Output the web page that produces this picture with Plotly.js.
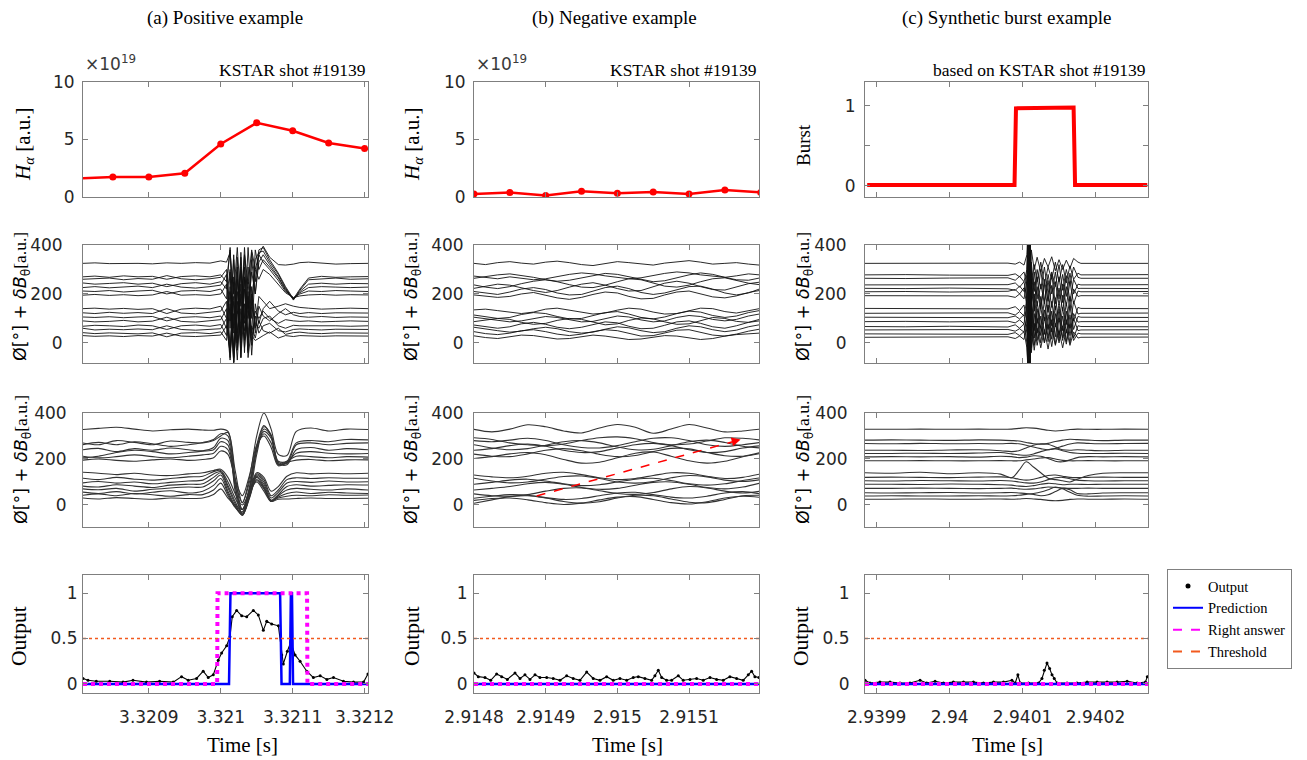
<!DOCTYPE html>
<html><head><meta charset="utf-8">
<script src="https://cdn.plot.ly/plotly-3.0.1.min.js"></script>
<style>html,body{margin:0;padding:0;background:#fff}#chart{width:1307px;height:760px}</style>
</head><body><div id="chart"></div>
<script>
// ================= DATA =================
// time arrays are in microseconds after the column base time (seconds)
const COL_BASE = [3.3208, 2.9148, 2.9399];
const X_TICK_LABELS = [["3.3209","3.321","3.3211","3.3212"],["2.9148","2.9149","2.915","2.9151"],["2.9399","2.94","2.9401","2.9402"]];
const X_RANGE_US = [[8.5,404.7],[0,397.6],[-16,372]];
const COL_TITLES = ["(a) Positive example","(b) Negative example","(c) Synthetic burst example"];
const SHOT_LABELS = ["KSTAR shot #19139","KSTAR shot #19139","based on KSTAR shot #19139"];

// Row 1: H-alpha (x1e19) and synthetic burst flag
const HA_POS_T = [0,50,100,150,200,250,300,350,400];
const HA_POS   = [1.62,1.73,1.73,2.07,4.61,6.45,5.76,4.70,4.21];
const HA_NEG_T = [0,50,100,150,200,250,300,350,400];
const HA_NEG   = [0.26,0.40,0.14,0.49,0.32,0.43,0.26,0.61,0.40];
const BURST_T  = [-13,189,191,270,272,371];
const BURST    = [0.01,0.01,0.97,0.98,0.01,0.01];

// Row 2: raw phase + dB signals
const RAW_POS_T = [8,25,45,65,85,105,125,145,165,185,200,208,213,218,223,228,233,238,243,248,253,259,268,280,290,301,310,322,340,360,380,405];
const RAW_POS = [
 [325,327,324,326,325,323,327,325,328,326,335,330,370,200,390,150,360,240,380,300,360,395,350,320,318,322,328,330,326,322,324,325],
 [270,273,268,274,270,272,260,271,274,270,278,250,380,60,350,-20,310,100,370,250,380,390,340,285,230,180,220,265,272,268,270,271],
 [260,262,265,258,263,260,275,262,258,262,268,300,90,340,0,370,80,390,150,340,370,375,330,280,225,175,215,258,262,265,260,262],
 [245,240,243,246,240,244,230,242,246,240,250,220,390,40,310,-60,270,20,340,200,330,360,320,270,220,178,210,240,244,240,243,242],
 [226,230,225,228,232,226,240,228,224,230,236,280,60,360,120,350,-40,310,100,380,300,340,310,265,215,180,205,226,230,228,226,228],
 [212,210,214,208,212,215,200,212,214,210,220,180,300,-60,290,60,390,140,290,200,360,330,300,255,210,185,200,212,210,214,212,210],
 [195,198,194,197,193,196,210,195,197,194,200,240,-20,270,40,310,100,250,40,300,260,300,280,240,205,185,192,196,198,195,197,196],
 [140,142,138,141,137,140,120,138,142,139,150,100,290,-80,210,30,360,-40,230,60,190,170,140,150,160,150,145,142,138,140,142,140],
 [123,120,125,121,124,120,140,122,119,124,130,170,-60,250,-20,300,10,210,-50,160,80,140,170,130,115,125,120,124,120,123,122,122],
 [106,104,107,103,106,108,90,104,107,103,110,60,230,-80,170,40,260,-30,200,40,150,110,90,120,140,115,108,105,108,104,106,105],
 [90,86,88,92,86,89,105,88,85,90,95,140,-40,190,0,240,50,170,10,130,100,130,100,80,95,90,88,90,86,88,90,88],
 [68,72,70,67,73,70,55,70,73,68,75,30,210,-20,260,-60,160,0,150,80,60,100,110,70,60,72,70,70,72,70,68,70],
 [60,53,56,54,57,54,70,55,52,56,58,100,-70,170,-30,140,20,190,-10,110,40,70,80,50,45,55,57,55,53,56,55,55],
 [42,38,41,40,37,41,25,40,42,38,45,10,160,-80,130,0,220,-60,70,20,90,50,40,60,35,42,44,40,38,41,40,40],
 [30,27,29,26,30,28,40,28,26,29,32,70,-40,120,-70,200,-20,130,30,10,20,30,45,20,30,26,30,28,27,29,28,28]
];
const RAW_NEG_T = [0,16,33,50,66,83,100,116,133,150,166,183,200,216,233,250,266,283,300,316,333,350,366,383,398];
const RAW_NEG = [
 [325,320,328,332,326,322,330,334,328,320,316,324,332,328,322,318,326,330,336,330,322,325,328,322,318],
 [273,268,262,270,264,258,262,272,280,286,282,274,268,262,266,276,284,290,286,278,272,268,274,282,278],
 [264,272,278,282,276,268,258,252,256,266,276,284,280,270,258,250,254,266,278,286,280,268,258,256,265],
 [237,228,222,230,242,252,258,250,238,228,226,236,250,262,258,244,232,228,236,250,262,266,256,244,238],
 [223,232,240,236,224,214,206,214,228,240,246,236,222,212,214,228,244,252,244,230,218,216,228,242,248],
 [210,204,198,208,220,226,218,204,196,198,212,226,232,222,206,198,204,218,230,232,220,204,196,204,220],
 [196,190,186,190,200,206,196,184,178,186,198,208,204,190,180,182,196,208,212,200,188,184,192,206,214],
 [135,138,132,126,120,126,138,142,134,124,118,122,134,142,138,126,118,120,132,142,140,128,122,130,140],
 [114,106,100,104,116,124,120,108,98,100,112,124,128,118,104,98,106,120,130,126,112,104,110,124,132],
 [105,98,92,86,90,100,108,104,94,86,88,100,110,106,94,86,90,104,112,108,96,90,96,110,118],
 [87,94,100,96,84,76,80,92,100,96,84,74,78,92,102,98,86,76,78,92,104,100,88,84,96],
 [73,66,60,66,78,84,76,64,58,64,76,86,82,68,58,60,72,86,90,80,66,60,70,84,90],
 [64,56,50,44,48,58,64,58,46,40,44,56,66,62,50,42,46,60,70,66,54,46,52,66,74],
 [46,38,34,40,50,54,46,36,30,36,46,54,50,38,28,30,42,52,54,44,32,28,36,48,56],
 [29,22,18,24,32,30,22,16,18,26,32,28,20,14,16,24,30,28,20,14,18,28,34,38,40]
];
const RAW_SYN_T = [-16,40,100,150,180,190,196,202,206,208,210,212,216,220,225,230,235,240,245,250,255,260,265,270,276,280,330,373];
const RAW_SYN = [
 [325,326,324,325,326,322,330,318,360,520,-150,380,300,350,290,345,310,352,295,340,300,338,305,345,330,325,326,325],
 [278,279,277,278,276,282,270,290,240,-150,500,220,320,250,330,240,310,260,330,250,320,245,315,260,285,278,278,279],
 [264,263,265,264,266,256,272,250,300,500,-150,330,210,300,220,310,200,290,230,320,215,300,240,310,268,264,265,264],
 [237,238,236,237,238,245,228,250,180,-150,500,160,290,180,300,170,280,200,290,180,280,190,285,200,240,237,237,238],
 [223,222,224,223,221,215,232,210,280,500,-150,300,160,270,150,260,170,280,160,270,165,275,170,260,222,223,223,222],
 [209,210,208,209,211,218,200,225,150,-150,500,140,250,150,240,160,255,145,250,155,240,150,250,160,212,209,209,210],
 [193,192,194,193,192,186,200,180,250,500,-150,260,130,230,140,240,125,235,135,225,130,230,140,220,190,193,193,192],
 [141,140,142,141,139,148,132,155,90,-150,500,60,200,80,190,90,200,70,185,85,195,75,190,90,145,141,141,140],
 [121,122,120,121,123,114,128,110,180,500,-150,190,50,170,60,175,55,170,65,160,50,165,60,170,118,121,121,122],
 [105,104,106,105,103,110,98,115,40,-150,500,30,160,40,150,35,155,45,150,30,145,40,150,55,108,105,105,104],
 [87,88,86,87,89,82,94,78,150,500,-150,160,20,140,30,135,20,130,25,140,20,130,30,120,85,87,87,88],
 [67,66,68,67,65,74,60,78,0,-150,500,-20,120,10,110,0,115,15,120,10,110,5,115,20,70,67,67,66],
 [53,54,52,53,55,48,58,44,110,500,-150,120,-10,100,0,105,5,95,-5,100,10,95,0,100,50,53,53,54],
 [37,36,38,37,35,42,30,46,-20,-150,500,-40,80,-10,70,0,75,-15,80,0,70,-5,75,10,40,37,37,36],
 [23,24,22,23,25,18,28,14,80,500,-150,70,-30,60,-20,55,-25,60,-10,50,-20,55,-10,45,20,23,23,24]
];

// Row 3: filtered signals
const FILT_POS_T = [8,30,55,80,105,130,155,175,190,200,210,220,230,240,250,260,270,280,292,305,325,350,375,405];
const FILT_POS = [
 [328,333,338,330,322,327,330,326,325,330,320,150,10,120,300,400,330,220,215,320,335,322,330,328],
 [270,262,280,272,262,278,272,270,280,300,315,120,-20,80,260,345,300,190,190,270,280,275,285,283],
 [262,272,262,275,266,255,262,272,285,310,300,90,-40,60,240,340,305,185,180,262,270,262,268,270],
 [240,246,232,245,238,248,240,236,250,290,280,60,-45,40,220,330,300,180,175,240,250,238,245,240],
 [205,212,228,238,232,222,228,234,240,275,260,80,-20,70,240,320,290,175,185,225,232,225,222,224],
 [212,205,210,218,210,205,212,218,225,255,240,100,10,100,250,310,270,175,190,212,210,205,210,208],
 [195,200,194,190,196,200,194,198,205,235,220,110,40,130,260,300,250,170,185,195,198,192,196,196],
 [142,138,132,138,130,128,135,140,150,155,120,50,0,60,140,120,60,80,125,140,135,138,136,138],
 [116,110,120,112,108,115,122,125,145,150,100,30,-20,50,135,110,40,65,110,118,115,118,116,116],
 [96,102,95,100,92,98,104,108,135,145,85,15,-35,40,130,100,30,55,95,102,98,104,100,101],
 [82,78,88,82,76,86,90,92,120,140,75,5,-45,35,125,90,20,45,80,88,82,85,88,87],
 [70,66,72,60,68,74,78,78,105,130,60,-5,-45,30,120,80,15,40,65,72,68,65,70,65],
 [56,50,58,48,55,62,52,60,85,115,50,-10,-40,40,110,75,15,35,50,56,50,55,52,50],
 [42,48,40,50,44,38,45,45,65,95,40,-10,-30,50,105,70,20,30,38,42,40,44,42,43],
 [30,26,32,28,25,30,28,30,45,70,30,0,-20,60,100,60,15,25,26,28,30,28,28,29]
];
const FILT_NEG_T = [0,25,50,75,100,125,150,175,200,225,250,275,300,325,350,375,400];
const FILT_NEG = [
 [329,318,330,349,340,322,313,335,350,338,312,330,350,335,318,322,330],
 [292,285,270,262,258,265,280,292,296,288,272,262,265,278,292,290,282],
 [280,275,282,290,280,262,250,248,258,275,290,292,280,262,255,262,272],
 [262,248,240,245,260,275,280,270,252,240,242,258,275,282,272,255,248],
 [238,245,258,265,255,238,228,232,248,262,268,258,240,228,232,248,258],
 [221,212,210,222,238,245,236,220,210,215,232,246,244,228,214,212,224],
 [202,210,222,228,218,198,182,186,205,225,230,212,192,182,190,210,228],
 [130,122,118,125,138,142,132,118,110,115,128,140,138,125,115,120,135],
 [116,104,96,100,112,124,126,115,100,95,102,118,128,122,108,102,110],
 [90,98,108,112,104,92,84,88,100,112,116,106,92,86,92,106,118],
 [65,72,80,92,98,90,76,68,72,86,98,100,90,76,70,78,96],
 [48,40,38,45,60,72,74,62,50,46,54,70,80,74,60,52,60],
 [29,38,45,42,32,24,28,40,52,55,45,34,30,38,52,58,48],
 [7,22,36,40,30,15,8,14,30,42,40,26,12,10,24,40,42],
 [20,28,30,22,10,2,8,22,34,36,24,10,4,14,30,38,33]
];
const FILT_SYN_T = [-16,20,60,100,140,170,185,195,205,215,225,235,245,255,265,275,290,310,340,373];
const FILT_SYN = [
 [329,329,330,329,330,329,330,333,336,334,330,325,322,324,328,330,329,329,330,329],
 [282,283,282,281,283,282,280,278,272,266,264,268,276,282,286,284,282,280,282,282],
 [267,266,268,266,267,266,268,266,260,252,245,240,246,256,265,270,268,266,267,268],
 [238,238,237,239,240,236,232,236,248,260,266,264,252,240,238,240,238,236,238,238],
 [224,224,225,224,226,228,222,218,216,222,232,240,244,236,228,225,224,224,225,224],
 [209,210,209,210,208,212,210,206,208,214,212,202,190,188,196,206,210,209,210,209],
 [192,192,193,192,192,193,192,192,196,200,204,206,200,194,192,192,193,192,192,192],
 [140,138,142,136,140,134,118,150,188,165,140,116,110,105,100,112,128,138,140,140],
 [120,121,120,119,121,122,118,112,108,112,120,128,130,125,120,119,120,121,120,120],
 [105,104,106,105,104,106,104,100,96,95,100,110,118,120,114,108,105,104,105,105],
 [90,90,89,91,90,88,86,82,80,84,90,94,92,88,90,90,89,90,90,90],
 [72,72,73,72,71,72,73,70,68,70,74,78,76,74,72,72,73,72,72,72],
 [53,52,53,54,52,53,54,52,50,46,40,44,58,72,66,50,48,52,53,53],
 [39,40,39,39,40,39,40,42,46,50,56,66,78,70,55,42,38,39,40,39],
 [25,25,26,25,25,26,25,26,28,26,24,20,18,20,24,26,25,25,26,25]
];
const ARROW_T = [87.4, 372];
const ARROW_V = [39, 284.5];

// Row 4: network output, prediction, right answer, threshold
const OUT_POS_T = [8.5,15.5,27,45.7,64.2,78,96.8,115,133.9,145.5,154.8,166.4,175.6,182.6,189.6,196.5,201.2,208.2,212.8,216,222.1,229.1,236.1,245.3,252.2,259.2,263.9,270.8,280.1,284.8,287,292.6,297.3,303.3,310.3,319.6,328.8,338.2,347.5,356.7,370.6,384.5,398.5,404.6];
const OUT_POS   = [0.06,0.04,0.03,0.03,0.02,0.04,0.02,0.03,0.02,0.08,0.04,0.06,0.14,0.07,0.10,0.26,0.34,0.42,0.52,0.74,0.81,0.75,0.74,0.81,0.76,0.59,0.69,0.66,0.64,0.32,0.22,0.36,0.46,0.32,0.25,0.14,0.07,0.09,0.05,0.07,0.03,0.02,0.02,0.11];
const OUT_NEG_T = [0,6,15.3,23.3,31.6,38.6,46.5,57.2,64.2,71.1,78.1,85.1,92,101.4,110.6,120,129.3,138.5,147.8,157.2,166.4,175.7,185.1,194.3,203.6,213,222.2,229.2,238.5,247.8,252.4,257.1,261.8,268.7,275.7,285,291.9,301.3,310.6,319.8,329.2,338.5,347.7,357,366.4,375.6,382.6,387.3,391.9,397.5];
const OUT_NEG   = [0.12,0.08,0.07,0.04,0.11,0.08,0.05,0.12,0.06,0.10,0.05,0.10,0.07,0.07,0.06,0.04,0.09,0.06,0.04,0.13,0.06,0.04,0.08,0.04,0.06,0.04,0.07,0.08,0.06,0.04,0.09,0.15,0.07,0.04,0.04,0.09,0.04,0.05,0.06,0.04,0.07,0.05,0.04,0.08,0.06,0.04,0.10,0.14,0.08,0.07];
const OUT_SYN_T = [-16,-9.2,4.5,18.3,32,45.7,59.5,68.7,80.1,91.5,105.2,119,132.7,146.4,160.2,173.9,185.4,190,193.6,196.8,208.2,222,226.6,229.8,233.5,237.1,240.4,243.5,247.3,261,274.7,288.5,302.2,315.9,329.7,343.4,357.1,368.5,371];
const OUT_SYN   = [0.04,0.01,0.02,0.02,0.01,0.01,0.04,0.01,0.03,0.01,0.02,0.02,0.02,0.01,0.02,0.02,0.04,0.01,0.10,0.01,0.01,0.01,0.06,0.15,0.23,0.17,0.10,0.06,0.01,0.01,0.01,0.02,0.02,0.02,0.02,0.03,0.01,0.02,0.08];
const PRED_POS_T = [8.5,211.5,213.5,282.5,284.5,296,297.5,299,300.5,404.7];
const PRED_POS   = [0,0,1,1,0,0,1,1,0,0];
const ANS_POS_T  = [8.5,195,195.5,320,320.5,404.7];
const ANS_POS    = [0,0,1,1,0,0];
const PRED_NEG_T = [0,397.6], PRED_NEG = [0,0], ANS_NEG_T = [0,397.6], ANS_NEG = [0,0];
const PRED_SYN_T = [-16,372], PRED_SYN = [0,0], ANS_SYN_T = [-16,372], ANS_SYN = [0,0];
const THRESHOLD = 0.5;

// ================= FIGURE =================
const W = 1307, H = 760;
const SERIF = "'Liberation Serif','Times New Roman',Times,serif";
const SANS = "'DejaVu Sans',Arial,Helvetica,sans-serif";
const XPX = [[83,368],[474,759],[865,1148]];
const YPX = [[82,197],[245,363],[413,527],[575,693]];
const YRANGE = [[[0,10],[0,10],[-0.14,1.3]],[[-82,400],[-82,400],[-82,400]],[[-96,400],[-96,400],[-96,400]],[[-0.1,1.2],[-0.1,1.2],[-0.1,1.2]]];
const YTICKS = [[[0,5,10],[0,5,10],[0,0.5,1]],[[0,200,400],[0,200,400],[0,200,400]],[[0,200,400],[0,200,400],[0,200,400]],[[0,0.5,1],[0,0.5,1],[0,0.5,1]]];
const YTEXT = [[["0","5","10"],["0","5","10"],["0","","1"]],[["0","200","400"],["0","200","400"],["0","200","400"]],[["0","200","400"],["0","200","400"],["0","200","400"]],[["0","0.5","1"],["0","0.5","1"],["0","0.5","1"]]];
const YSTAND = [[4,4,5],[16,6,14],[12,6,13],[1,2,11]];

const px = (x)=>x/W, py = (y)=>1-y/H;
const sec = (c, arr)=>arr.map(t=>COL_BASE[c]+t*1e-6);
const idx = (r,c)=>r*3+c+1;
const xa = (r,c)=>{const i=idx(r,c);return i===1?'x':'x'+i;};
const ya = (r,c)=>{const i=idx(r,c);return i===1?'y':'y'+i;};

const layout = {width:W,height:H,margin:{l:0,r:0,t:0,b:0},paper_bgcolor:'#fff',plot_bgcolor:'#fff',
  showlegend:true, annotations:[], shapes:[],
  legend:{x:px(1167),y:py(569),xanchor:'left',yanchor:'top',bgcolor:'#fff',bordercolor:'#808080',borderwidth:1,
    font:{family:SERIF,size:14.5,color:'#000'},itemwidth:30,tracegroupgap:0}};

for(let r=0;r<4;r++)for(let c=0;c<3;c++){
  const i=idx(r,c);
  const base={showline:true,mirror:'ticks',linecolor:'#7f7f7f',linewidth:1,ticks:'inside',ticklen:5,tickcolor:'#7f7f7f',
    showgrid:false,zeroline:false,fixedrange:true,tickfont:{family:SANS,size:17,color:'#262626'}};
  layout['xaxis'+(i===1?'':i)] = Object.assign({},base,{domain:[px(XPX[c][0]),px(XPX[c][1])],anchor:ya(r,c),
    range:sec(c,X_RANGE_US[c]),tickmode:'array',tickvals:X_TICK_LABELS[c].map(parseFloat),ticktext:X_TICK_LABELS[c],
    showticklabels:r===3,ticklabelstandoff:9});
  layout['yaxis'+(i===1?'':i)] = Object.assign({},base,{domain:[py(YPX[r][1]),py(YPX[r][0])],anchor:xa(r,c),
    range:YRANGE[r][c],tickmode:'array',tickvals:YTICKS[r][c],ticktext:YTEXT[r][c],ticklabelstandoff:YSTAND[r][c]});
}

const traces=[];
function add(r,c,tr){traces.push(Object.assign({xaxis:xa(r,c),yaxis:ya(r,c),showlegend:false,hoverinfo:'skip'},tr));}

// Row 1
add(0,0,{x:sec(0,HA_POS_T),y:HA_POS,mode:'lines+markers',line:{color:'#ff0000',width:2.5},marker:{color:'#ff0000',size:7}});
add(0,1,{x:sec(1,HA_NEG_T),y:HA_NEG,mode:'lines+markers',line:{color:'#ff0000',width:2.5},marker:{color:'#ff0000',size:7}});
add(0,2,{x:sec(2,BURST_T),y:BURST,mode:'lines',line:{color:'#ff0000',width:4}});
// Row 2
[[RAW_POS_T,RAW_POS],[RAW_NEG_T,RAW_NEG],[RAW_SYN_T,RAW_SYN]].forEach(([T,S],c)=>{
  S.forEach(v=>add(1,c,{x:sec(c,T),y:v,mode:'lines',line:{color:'#111',width:0.9}}));
});
// Row 3
[[FILT_POS_T,FILT_POS],[FILT_NEG_T,FILT_NEG],[FILT_SYN_T,FILT_SYN]].forEach(([T,S],c)=>{
  S.forEach(v=>add(2,c,{x:sec(c,T),y:v,mode:'lines',line:{color:'#333',width:1.1,shape:'spline',smoothing:0.9}}));
});
// Row 4
const R4 = [[OUT_POS_T,OUT_POS,PRED_POS_T,PRED_POS,ANS_POS_T,ANS_POS],[OUT_NEG_T,OUT_NEG,PRED_NEG_T,PRED_NEG,ANS_NEG_T,ANS_NEG],[OUT_SYN_T,OUT_SYN,PRED_SYN_T,PRED_SYN,ANS_SYN_T,ANS_SYN]];
R4.forEach(([ot,ov,pt,pv,at,av],c)=>{
  add(3,c,{x:sec(c,ot),y:ov,mode:'lines+markers',line:{color:'#000',width:1.1},marker:{color:'#000',size:3}});
  add(3,c,{x:sec(c,pt),y:pv,mode:'lines',line:{color:'#0000ff',width:2.5}});
  add(3,c,{x:sec(c,at),y:av,mode:'lines',line:{color:'#ff00ff',width:4,dash:'dot'}});
  add(3,c,{x:sec(c,X_RANGE_US[c]),y:[THRESHOLD,THRESHOLD],mode:'lines',line:{color:'#f25a1e',width:1.4,dash:'dot'}});
});
// legend entries
const leg=[{name:'Output',mode:'markers',marker:{color:'#000',size:5}},
  {name:'Prediction',mode:'lines',line:{color:'#0000ff',width:2}},
  {name:'Right answer',mode:'lines',line:{color:'#ff00ff',width:2,dash:'dash'}},
  {name:'Threshold',mode:'lines',line:{color:'#f25a1e',width:2,dash:'dash'}}];
leg.forEach(l=>traces.push(Object.assign({x:[null],y:[null],xaxis:'x10',yaxis:'y10',showlegend:true},l)));

// Arrow in negative example, filtered row
const ax8 = sec(1,ARROW_T);
layout.shapes.push({type:'line',xref:'x8',yref:'y8',x0:ax8[0],y0:ARROW_V[0],x1:ax8[1],y1:ARROW_V[1],line:{color:'#ff0000',width:1.5,dash:'dash'}});
layout.annotations.push({xref:'x8',yref:'y8',axref:'x8',ayref:'y8',x:ax8[1],y:ARROW_V[1],ax:ax8[1]-0.000012,ay:ARROW_V[1]-10,
  showarrow:true,arrowhead:2,arrowsize:1.2,arrowwidth:1.5,arrowcolor:'#ff0000',text:''});

// Text
const A = (o)=>layout.annotations.push(Object.assign({xref:'paper',yref:'paper',showarrow:false},o));
const colCenters=[225,614,1006];
COL_TITLES.forEach((t,c)=>A({x:px(colCenters[c]),y:py(18),text:t,font:{family:SERIF,size:19,color:'#000'},xanchor:'center',yanchor:'middle'}));
SHOT_LABELS.forEach((t,c)=>A({x:px(XPX[c][1]),y:py(70),text:t,font:{family:SERIF,size:17.5,color:'#000'},xanchor:'right',yanchor:'middle'}));
[0,1].forEach(c=>A({x:px(XPX[c][0]),y:py(76),text:'×10<sup>19</sup>',font:{family:SANS,size:17,color:'#3a3a3a'},xanchor:'left',yanchor:'bottom'}));
const yTitleX=[[24,413,803],[21,412,804],[22,412,804],[19,412,801]];
const yTitleY=[145,297,460,636];
const hTitle='<i>H</i><sub><i>α</i></sub> [a.u.]';
const phiTitle='Ø[°] + <i>δB</i><sub>θ</sub><span style="font-family:Liberation Serif">[a.u.]</span>';
const yTitles=[[hTitle,hTitle,'Burst'],[phiTitle,phiTitle,phiTitle],[phiTitle,phiTitle,phiTitle],['Output','Output','Output']];
for(let r=0;r<4;r++)for(let c=0;c<3;c++){
  const isPhi=(r===1||r===2);
  let fs = isPhi?17.5:(r===0?(c===2?19:21):21.5);
  A({x:px(yTitleX[r][c]),y:py(yTitleY[r]),text:yTitles[r][c],textangle:-90,xanchor:'center',yanchor:'middle',
    font:{family:isPhi?SANS:SERIF,size:fs,color:'#000'}});
}
const xTitleX=[242,627,1007];
xTitleX.forEach(x=>A({x:px(x),y:py(745),text:'Time [s]',font:{family:SERIF,size:21,color:'#000'},xanchor:'center',yanchor:'middle'}));

Plotly.newPlot('chart',traces,layout,{displayModeBar:false,staticPlot:true});
</script></body></html>
